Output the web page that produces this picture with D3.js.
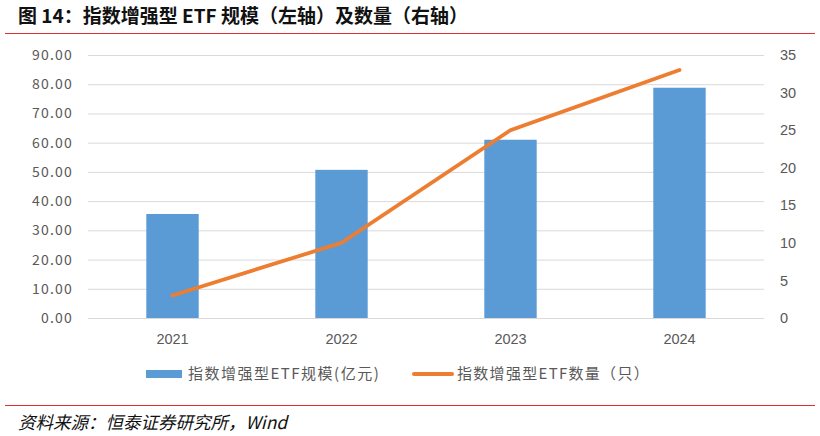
<!DOCTYPE html>
<html><head><meta charset="utf-8">
<script src="https://cdn.jsdelivr.net/npm/d3@7"></script>
<style>
html,body{margin:0;padding:0;background:#fff;}
svg{display:block;}
</style></head>
<body>
<svg id="c" width="820" height="436"></svg>
<script>
const categories = ["2021","2022","2023","2024"];
const scaleValues = [35.6, 50.7, 61.0, 78.8];   // 指数增强型ETF规模(亿元)
const countValues = [3, 10, 25, 33];            // 指数增强型ETF数量（只）
const leftTicks = [0,10,20,30,40,50,60,70,80,90];
const rightTicks = [0,5,10,15,20,25,30,35];
const titleText = "图 14：指数增强型 ETF 规模（左轴）及数量（右轴）";
const sourceText = "资料来源：恒泰证券研究所，Wind";
const legendBar = "指数增强型ETF规模(亿元)";
const legendLine = "指数增强型ETF数量（只）";

const svg = d3.select("#c");
const cjk = "'Noto Sans CJK SC','Noto Sans',sans-serif";
const grey = "#595959";

// title
svg.append("text").attr("x",18).attr("y",23)
  .attr("font-family",cjk).attr("font-weight","bold").attr("font-size",19)
  .attr("fill","#111").text(titleText);
svg.append("line").attr("x1",5).attr("x2",815).attr("y1",33.5).attr("y2",33.5)
  .attr("stroke","#e03030").attr("stroke-width",1.2);

const m = {l:88, r:764, t:55, b:318};
const x = d3.scaleBand().domain(categories).range([m.l,m.r]).paddingInner(0.69).paddingOuter(0.345);
const yL = d3.scaleLinear().domain([0,90]).range([m.b,m.t]);
const yR = d3.scaleLinear().domain([0,35]).range([m.b,m.t]);

// gridlines
svg.append("g").selectAll("line").data(leftTicks).join("line")
  .attr("x1",m.l).attr("x2",m.r).attr("y1",d=>yL(d)+0.5).attr("y2",d=>yL(d)+0.5)
  .attr("stroke","#d9d9d9").attr("stroke-width",1);

// left axis
const axL = svg.append("g").attr("transform",`translate(${m.l-15},0)`)
  .call(d3.axisLeft(yL).tickValues(leftTicks).tickSize(0).tickPadding(0).tickFormat(d=>d3.format(".2f")(d)));
axL.select(".domain").remove();
axL.selectAll("text").attr("font-family",cjk).attr("font-size",14).attr("fill",grey).attr("letter-spacing",1.2);

// right axis
const axR = svg.append("g").attr("transform",`translate(${m.r+16},0)`)
  .call(d3.axisRight(yR).tickValues(rightTicks).tickSize(0).tickPadding(0));
axR.select(".domain").remove();
axR.selectAll("text").attr("font-family","'Liberation Sans',Arial,sans-serif").attr("font-size",14.5).attr("fill",grey);

// x axis
const axX = svg.append("g").attr("transform",`translate(0,${m.b+16})`)
  .call(d3.axisBottom(x).tickSize(0).tickPadding(0));
axX.select(".domain").remove();
axX.selectAll("text").attr("font-family","'Liberation Sans',Arial,sans-serif").attr("font-size",14.5).attr("fill",grey);

// bars
svg.append("g").selectAll("rect").data(scaleValues).join("rect")
  .attr("x",(d,i)=>x(categories[i])).attr("width",x.bandwidth())
  .attr("y",d=>yL(d)).attr("height",d=>yL(0)-yL(d))
  .attr("fill","#5b9bd5");

// line
const cx = i => x(categories[i]) + x.bandwidth()/2;
svg.append("path").datum(countValues)
  .attr("d",d3.line().x((d,i)=>cx(i)).y(d=>yR(d)))
  .attr("fill","none").attr("stroke","#ed7d31").attr("stroke-width",3.8).attr("stroke-linecap","round");

// legend
const ly = 374;
svg.append("rect").attr("x",146).attr("y",ly-4).attr("width",36).attr("height",8).attr("fill","#5b9bd5");
svg.append("text").attr("x",188).attr("y",ly+5).attr("font-family",cjk).attr("font-size",15)
  .attr("fill",grey).attr("letter-spacing",1.5).text(legendBar);
svg.append("line").attr("x1",414).attr("x2",452).attr("y1",ly).attr("y2",ly)
  .attr("stroke","#ed7d31").attr("stroke-width",4).attr("stroke-linecap","round");
svg.append("text").attr("x",457).attr("y",ly+5).attr("font-family",cjk).attr("font-size",15)
  .attr("fill",grey).attr("letter-spacing",1.3).text(legendLine);

// bottom rule and source
svg.append("line").attr("x1",5).attr("x2",815).attr("y1",405.5).attr("y2",405.5)
  .attr("stroke","#e03030").attr("stroke-width",1.2);
svg.append("text").attr("x",18).attr("y",429).attr("font-family",cjk).attr("font-style","italic")
  .attr("font-size",17.5).attr("fill","#111").text(sourceText);
</script>
</body></html>
